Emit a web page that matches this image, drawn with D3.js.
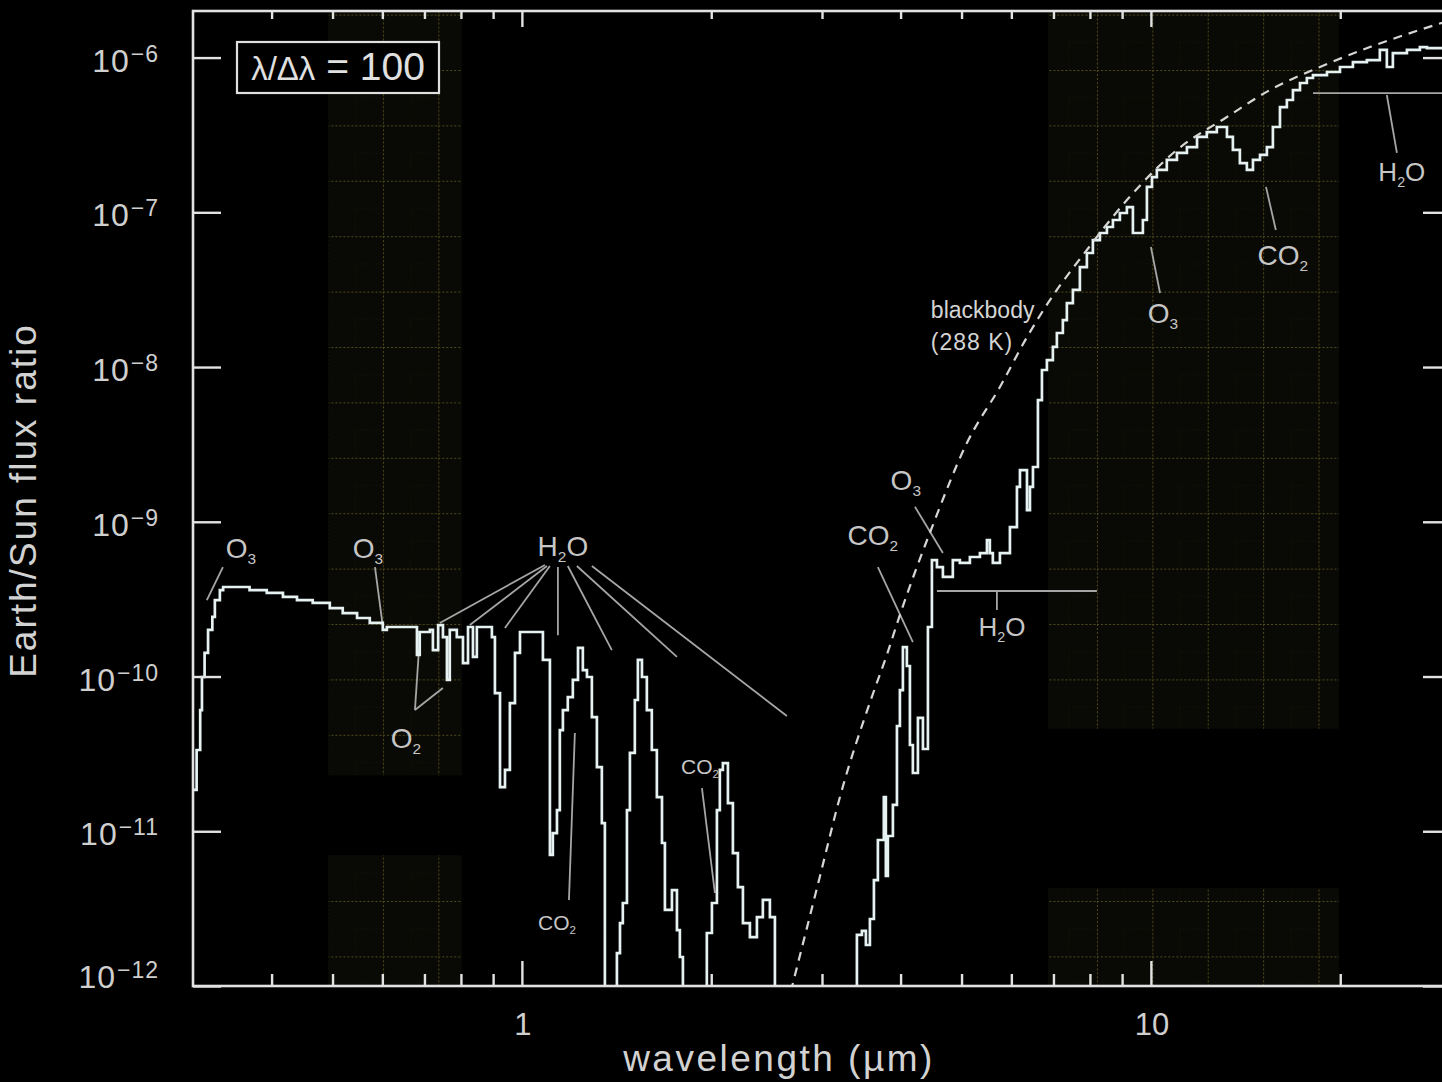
<!DOCTYPE html>
<html>
<head>
<meta charset="utf-8">
<script src="https://cdn.jsdelivr.net/npm/d3@7"></script>
<style>
  html, body { margin: 0; padding: 0; background: #000; }
  svg { display: block; }
  text { font-family: "Liberation Sans", Arial, sans-serif; }
</style>
</head>
<body>
<svg id="chart" width="1442" height="1082"></svg>
<script>
// ---- Earth/Sun flux ratio spectrum at resolution 100 (step starts) ----
// 0.3 - 1.0 µm : Rayleigh plateau, O3 / O2 / H2O bands
const wavelengthUm = [
  0.300, 0.304, 0.308, 0.310, 0.313, 0.317, 0.322, 0.325, 0.331, 0.335,
  0.369, 0.393, 0.417, 0.439, 0.465, 0.495, 0.519, 0.547, 0.573, 0.601,
  0.610, 0.681, 0.688, 0.714, 0.722, 0.736, 0.749, 0.760, 0.768, 0.788,
  0.806, 0.821, 0.836, 0.848, 0.896, 0.906, 0.923, 0.940, 0.957, 0.975,
  0.993,
  // 1.0 - 2.6 µm : near-IR water and CO2 bands
  1.080, 1.108, 1.120, 1.137, 1.149, 1.162, 1.183, 1.205, 1.228, 1.250,
  1.269, 1.292, 1.316, 1.340, 1.355, 1.416, 1.432, 1.447, 1.469, 1.485,
  1.512, 1.529, 1.552, 1.580, 1.609, 1.639, 1.670, 1.688, 1.732, 1.764,
  1.783, 1.803, 1.968, 2.005, 2.042, 2.064, 2.087, 2.126, 2.165, 2.205,
  2.246, 2.304, 2.364, 2.416, 2.479, 2.525,
  // 3.4 - 30 µm : thermal emission
  3.409, 3.472, 3.523, 3.575, 3.628, 3.681, 3.762, 3.790, 3.818, 3.889,
  3.947, 3.990, 4.034, 4.093, 4.139, 4.184, 4.262, 4.341, 4.421, 4.486,
  4.569, 4.670, 4.843, 4.969, 5.155, 5.348, 5.487, 5.546, 5.607, 5.754,
  5.969, 6.124, 6.192, 6.353, 6.423, 6.494, 6.613, 6.711, 6.834, 6.985,
  7.088, 7.245, 7.352, 7.516, 7.711, 7.911, 8.087, 8.297, 8.513, 8.702,
  8.927, 9.159, 9.363, 9.711, 9.855, 10.04, 10.22, 10.60, 11.00, 11.41,
  11.84, 12.27, 12.73, 13.21, 13.50, 13.85, 14.21, 14.53, 14.91, 15.29,
  15.63, 16.04, 16.45, 16.82, 17.26, 17.70, 18.10, 19.05, 19.98, 20.95,
  22.05, 23.12, 23.72, 24.25, 25.53, 26.77, 27.47, 30.0
];
const fluxRatio = [
  1.85e-11, 3.35e-11, 6.07e-11, 9.93e-11, 1.42e-10, 2.00e-10, 2.43e-10, 3.12e-10, 3.62e-10, 3.79e-10,
  3.62e-10, 3.47e-10, 3.27e-10, 3.12e-10, 2.99e-10, 2.77e-10, 2.57e-10, 2.39e-10, 2.22e-10, 2.00e-10,
  2.09e-10, 1.38e-10, 1.94e-10, 2.00e-10, 1.48e-10, 2.15e-10, 1.80e-10, 9.50e-11, 2.00e-10, 1.80e-10,
  1.22e-10, 2.09e-10, 1.34e-10, 2.09e-10, 1.80e-10, 7.82e-11, 1.93e-11, 2.49e-11, 6.74e-11, 1.42e-10,
  1.94e-10,
  1.28e-10, 7.03e-12, 9.74e-12, 1.37e-11, 4.51e-11, 6.07e-11, 7.37e-11, 9.50e-11, 1.53e-10, 1.10e-10,
  9.93e-11, 5.47e-11, 2.60e-11, 1.13e-11, 5.0e-13, 1.63e-12, 2.55e-12, 3.44e-12, 1.37e-11, 3.21e-11,
  7.05e-11, 1.28e-10, 9.93e-11, 6.07e-11, 3.35e-11, 1.66e-11, 8.40e-12, 3.10e-12, 4.17e-12, 2.30e-12,
  1.54e-12, 5.0e-13, 2.20e-12, 3.44e-12, 1.37e-11, 2.49e-11, 2.76e-11, 1.52e-11, 7.23e-12, 4.36e-12,
  2.55e-12, 2.07e-12, 2.79e-12, 3.60e-12, 2.79e-12, 5.0e-13,
  2.14e-12, 2.27e-12, 1.84e-12, 2.71e-12, 4.84e-12, 8.78e-12, 1.66e-11, 5.14e-12, 9.32e-12, 1.48e-11,
  4.79e-11, 8.18e-11, 1.55e-10, 1.17e-10, 3.61e-11, 2.38e-11, 5.40e-11, 3.40e-11, 2.09e-10, 5.66e-10,
  5.10e-10, 4.40e-10, 5.66e-10, 5.42e-10, 5.92e-10, 6.28e-10, 7.62e-10, 6.28e-10, 5.42e-10, 6.28e-10,
  9.25e-10, 1.68e-9, 2.16e-9, 1.19e-9, 1.68e-9, 2.26e-9, 6.12e-9, 9.57e-9, 1.11e-8, 1.35e-8,
  1.66e-8, 2.01e-8, 2.59e-8, 3.15e-8, 4.43e-8, 5.46e-8, 6.62e-8, 7.35e-8, 8.04e-8, 8.92e-8,
  9.90e-8, 1.08e-7, 7.35e-8, 8.92e-8, 1.46e-7, 1.69e-7, 1.88e-7, 2.18e-7, 2.42e-7, 2.64e-7,
  3.07e-7, 3.30e-7, 3.56e-7, 3.07e-7, 2.53e-7, 2.08e-7, 1.88e-7, 2.18e-7, 2.35e-7, 2.64e-7,
  3.56e-7, 4.79e-7, 5.32e-7, 6.17e-7, 6.85e-7, 7.38e-7, 7.71e-7, 8.07e-7, 8.69e-7, 9.36e-7,
  9.64e-7, 1.12e-6, 8.69e-7, 1.07e-6, 1.12e-6, 1.17e-6, 1.15e-6, 1.15e-6
];

// ---- 288 K blackbody reference ----
const bbWavelength = [2.60, 2.977, 3.203, 3.614, 3.804, 3.990, 4.502, 5.099, 5.754, 6.353,
                      6.859, 7.911, 9.159, 11.00, 13.21, 15.46, 18.57, 22.30, 26.77, 30.0];
const bbRatio      = [5.8e-13, 5.1e-12, 1.66e-11, 7.71e-11, 1.38e-10, 2.50e-10, 9.53e-10, 3.23e-9, 7.43e-9, 1.56e-8,
                      2.59e-8, 5.71e-8, 1.20e-7, 2.53e-7, 4.13e-7, 6.17e-7, 8.69e-7, 1.17e-6, 1.51e-6, 1.75e-6];

// ---- shaded wavelength windows ----
const bandStart      = [0.493, 6.86];
const bandEnd        = [0.803, 19.9];
const bandUpperFloor = [2.3e-11, 4.6e-11];
const bandLowerTop   = [7.0e-12, 4.3e-12];
const bandGridX      = [0.6012, 8.207];   // a grid column of each window

// ---- axis ticks ----
const yTicks = [1e-12, 1e-11, 1e-10, 1e-9, 1e-8, 1e-7, 1e-6];
const xMajorTicks = [1, 10];
const xMinorTicks = [0.4, 0.5, 0.6, 0.7, 0.8, 0.9, 2, 3, 4, 5, 6, 7, 8, 9, 20];
const xTickLabels = ["1", "10"];

// ---- band labels: main text, subscript, tail, wavelength, ratio, font size ----
const labelMain  = ["O", "O", "O", "H", "CO", "CO", "CO", "O", "H", "O", "CO", "H"];
const labelSub   = ["3", "3", "2", "2", "2", "2", "2", "3", "2", "3", "2", "2"];
const labelTail  = ["", "", "", "O", "", "", "", "", "O", "", "", "O"];
const labelX     = [0.3575, 0.5690, 0.6541, 1.162, 1.137, 1.919, 3.614, 4.077, 5.797, 10.45, 16.21, 25.06];
const labelY     = [6.77e-10, 6.77e-10, 4.01e-11, 6.97e-10, 2.59e-12, 2.64e-11, 8.21e-10, 1.86e-9, 2.09e-10, 2.23e-8, 5.30e-8, 1.82e-7];
const labelSize  = [28, 28, 28, 28, 21, 21, 28, 28, 26, 28, 28, 26];

// ---- leader lines: [λ1, ratio1, λ2, ratio2] ----
const leaders = [
  [0.3347, 5.10e-10, 0.3156, 3.12e-10],
  [0.5840, 5.10e-10, 0.6012, 2.09e-10],
  [0.6860, 1.48e-10, 0.6760, 6.07e-11],
  [0.6760, 6.07e-11, 0.7489, 8.43e-11],
  [1.088, 5.26e-10, 0.7405, 2.22e-10],
  [1.096, 5.18e-10, 0.8265, 2.15e-10],
  [1.108, 5.18e-10, 0.9397, 2.06e-10],
  [1.141, 5.10e-10, 1.141, 1.85e-10],
  [1.183, 5.18e-10, 1.390, 1.48e-10],
  [1.223, 5.18e-10, 1.764, 1.34e-10],
  [1.292, 5.18e-10, 2.638, 5.56e-11],
  [1.214, 4.31e-11, 1.188, 3.60e-12],
  [1.933, 1.90e-11, 2.027, 3.99e-12],
  [3.681, 5.10e-10, 4.184, 1.67e-10],
  [4.216, 1.25e-9, 4.670, 6.28e-10],
  [4.569, 3.57e-10, 8.207, 3.57e-10],
  [5.691, 3.57e-10, 5.691, 2.69e-10],
  [10.00, 5.97e-8, 10.34, 3.01e-8],
  [15.24, 1.46e-7, 15.80, 7.68e-8],
  [18.10, 5.90e-7, 30.0, 5.90e-7],
  [23.72, 5.73e-7, 24.61, 2.42e-7]
];
const bbLabelLines = ["blackbody", "(288 K)"];
const bbLabelX = 4.469;
const bbLabelY = [2.34e-8, 1.45e-8];

// ---------------------------------------------------------------
const svg = d3.select("#chart");
const W = 1442, H = 1082;
const plot = { left: 193, top: 11, right: 1451, bottom: 986 };

svg.append("rect").attr("width", W).attr("height", H).attr("fill", "#000");

const x = d3.scaleLog().domain([0.3, 30]).range([plot.left, plot.right]);
const y = d3.scaleLog().domain([1e-12, 2e-6]).range([plot.bottom, plot.top]);

const defs = svg.append("defs");
defs.append("clipPath").attr("id", "plotClip")
  .append("rect")
  .attr("x", plot.left).attr("y", plot.top)
  .attr("width", plot.right - plot.left).attr("height", plot.bottom - plot.top);

// grid texture for the shaded windows
const cell = 55.4;
bandGridX.forEach((gx, i) => {
  const p = defs.append("pattern")
    .attr("id", "bandGrid" + i)
    .attr("patternUnits", "userSpaceOnUse")
    .attr("x", x(gx)).attr("y", 14.6)
    .attr("width", cell).attr("height", cell);
  p.append("rect").attr("width", cell).attr("height", cell).attr("fill", "#090905");
  p.append("rect").attr("width", cell).attr("height", cell)
    .attr("fill", "none").attr("stroke", "#17150a").attr("stroke-width", 1)
    .attr("stroke-dasharray", "1 2").attr("x", cell / 2).attr("y", cell / 2);
  p.append("line").attr("x1", 0).attr("y1", 0).attr("x2", cell).attr("y2", 0)
    .attr("stroke", "#524d1a").attr("stroke-width", 2).attr("stroke-dasharray", "2 2");
  p.append("line").attr("x1", 0).attr("y1", 0).attr("x2", 0).attr("y2", cell)
    .attr("stroke", "#524d1a").attr("stroke-width", 2).attr("stroke-dasharray", "2 2");
});

const bands = svg.append("g").attr("clip-path", "url(#plotClip)");
bandStart.forEach((b0, i) => {
  const x0 = x(b0), x1 = x(bandEnd[i]);
  bands.append("rect")
    .attr("x", x0).attr("width", x1 - x0)
    .attr("y", y(2e-6)).attr("height", y(bandUpperFloor[i]) - y(2e-6))
    .attr("fill", `url(#bandGrid${i})`);
  bands.append("rect")
    .attr("x", x0).attr("width", x1 - x0)
    .attr("y", y(bandLowerTop[i])).attr("height", y(1e-12) - y(bandLowerTop[i]))
    .attr("fill", `url(#bandGrid${i})`);
});

// leader lines
const annot = svg.append("g");
annot.selectAll("line.leader").data(leaders).join("line")
  .attr("class", "leader")
  .attr("x1", d => x(d[0])).attr("y1", d => y(d[1]))
  .attr("x2", d => x(d[2])).attr("y2", d => y(d[3]))
  .attr("stroke", "#a6a6a6").attr("stroke-width", 1.8);

// spectrum
const spectrum = wavelengthUm.map((w, i) => [w, fluxRatio[i]]);
const plotArea = svg.append("g").attr("clip-path", "url(#plotClip)");
plotArea.append("path")
  .datum(spectrum)
  .attr("fill", "none")
  .attr("stroke", "#e6f1f1")
  .attr("stroke-width", 2.7)
  .attr("stroke-linejoin", "miter")
  .attr("d", d3.line().x(d => x(d[0])).y(d => y(d[1])).curve(d3.curveStepAfter));

// blackbody
const bb = bbWavelength.map((w, i) => [w, bbRatio[i]]);
plotArea.append("path")
  .datum(bb)
  .attr("fill", "none")
  .attr("stroke", "#d6d6d6")
  .attr("stroke-width", 2.2)
  .attr("stroke-dasharray", "9 7")
  .attr("d", d3.line().x(d => x(d[0])).y(d => y(d[1])).curve(d3.curveMonotoneX));

// band labels with subscripts
labelMain.forEach((m, i) => {
  const fs = labelSize[i];
  const t = annot.append("text")
    .attr("x", x(labelX[i])).attr("y", y(labelY[i]) + fs * 0.36)
    .attr("text-anchor", "middle")
    .attr("fill", "#c6c6c6")
    .attr("font-size", fs);
  t.append("tspan").text(m);
  t.append("tspan").text(labelSub[i]).attr("font-size", fs * 0.55).attr("dy", fs * 0.22);
  if (labelTail[i]) t.append("tspan").text(labelTail[i]).attr("dy", -fs * 0.22);
});

bbLabelLines.forEach((s, i) => {
  annot.append("text")
    .attr("x", x(bbLabelX)).attr("y", y(bbLabelY[i]) + 8)
    .attr("fill", "#d4d4d4").attr("font-size", 23)
    .attr("letter-spacing", i === 0 ? 0 : 1)
    .text(s);
});

// ---- axes ----
const axisColor = "#e2e2e2";
function styleTicks(g) {
  g.select(".domain").remove();
  g.selectAll("line").attr("stroke", axisColor).attr("stroke-width", 2.4);
  g.selectAll("text").remove();
}
const axes = svg.append("g");
axes.append("g").attr("transform", `translate(0,${plot.bottom})`)
  .call(d3.axisBottom(x).tickValues(xMajorTicks).tickSize(-25)).call(styleTicks);
axes.append("g").attr("transform", `translate(0,${plot.bottom})`)
  .call(d3.axisBottom(x).tickValues(xMinorTicks).tickSize(-12)).call(styleTicks);
axes.append("g").attr("transform", `translate(0,${plot.top})`)
  .call(d3.axisTop(x).tickValues(xMajorTicks).tickSize(-16)).call(styleTicks);
axes.append("g").attr("transform", `translate(0,${plot.top})`)
  .call(d3.axisTop(x).tickValues(xMinorTicks).tickSize(-8)).call(styleTicks);
axes.append("g").attr("transform", `translate(${plot.left},0)`)
  .call(d3.axisLeft(y).tickValues(yTicks).tickSize(-28)).call(styleTicks);
axes.append("g").attr("transform", `translate(${plot.right},0)`)
  .call(d3.axisRight(y).tickValues(yTicks).tickSize(-28)).call(styleTicks);

// frame
axes.append("rect")
  .attr("x", plot.left).attr("y", plot.top)
  .attr("width", plot.right - plot.left).attr("height", plot.bottom - plot.top)
  .attr("fill", "none").attr("stroke", axisColor).attr("stroke-width", 2.6);

// y tick labels: 10^-n
yTicks.forEach(v => {
  const exp = Math.round(Math.log10(v));
  const lift = v === 1e-12 ? 12 : 0;
  const t = axes.append("text")
    .attr("x", 159).attr("y", y(v) + 14 - lift)
    .attr("text-anchor", "end")
    .attr("fill", "#cfcfcf")
    .attr("font-size", 32)
    .attr("letter-spacing", 1);
  t.append("tspan").text("10");
  t.append("tspan").text("\u2212" + Math.abs(exp))
    .attr("font-size", 23).attr("dy", -10).attr("dx", 1);
});

// x tick labels
xMajorTicks.forEach((v, i) => {
  axes.append("text")
    .attr("x", x(v) + 1).attr("y", plot.bottom + 49)
    .attr("text-anchor", "middle")
    .attr("fill", "#cfcfcf").attr("font-size", 31)
    .text(xTickLabels[i]);
});

// axis titles
axes.append("text")
  .attr("transform", `translate(36,${(plot.top + plot.bottom) / 2 + 2}) rotate(-90)`)
  .attr("text-anchor", "middle")
  .attr("fill", "#d2d2d2").attr("font-size", 37)
  .attr("letter-spacing", 2)
  .text("Earth/Sun flux ratio");
axes.append("text")
  .attr("x", 779).attr("y", 1071)
  .attr("text-anchor", "middle")
  .attr("fill", "#d2d2d2").attr("font-size", 37)
  .attr("letter-spacing", 2.5)
  .text("wavelength (\u00b5m)");

// resolution box
const box = axes.append("g").attr("transform", `translate(${plot.left + 44},${plot.top + 31})`);
box.append("rect").attr("width", 202).attr("height", 51)
  .attr("fill", "#000").attr("stroke", "#e0e0e0").attr("stroke-width", 2.2);
const boxText = box.append("text").attr("x", 101).attr("y", 38)
  .attr("text-anchor", "middle").attr("fill", "#e0e0e0");
boxText.append("tspan").attr("font-size", 33).text("\u03bb/\u0394\u03bb");
boxText.append("tspan").attr("font-size", 39).text(" = 100");
</script>
</body>
</html>
